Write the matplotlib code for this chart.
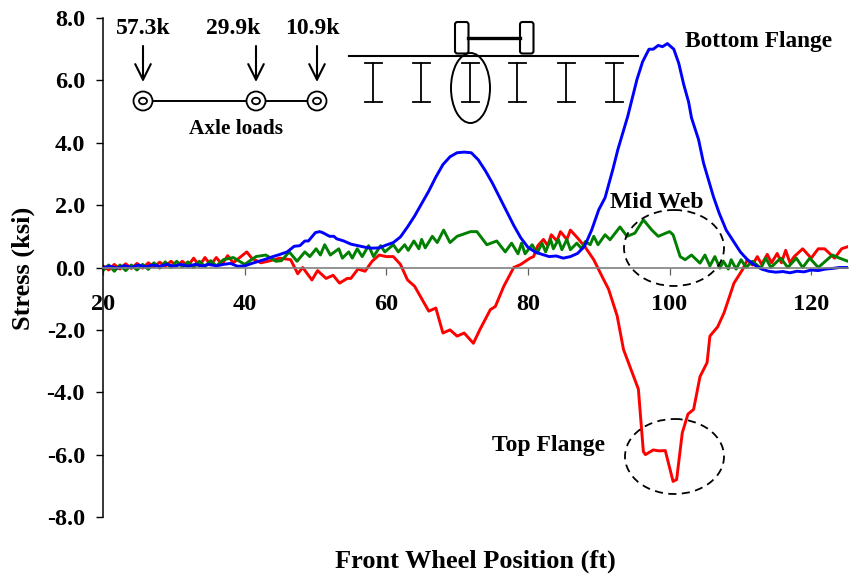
import numpy as np
import matplotlib
matplotlib.use("Agg")
import matplotlib.pyplot as plt
from matplotlib.patches import Ellipse, Circle, FancyBboxPatch

plt.rcParams['font.family'] = ['Liberation Serif', 'DejaVu Serif']
plt.rcParams['font.weight'] = 'bold'

x_ticks = [20, 40, 60, 80, 100, 120]
y_ticks = [-8, -6, -4, -2, 0, 2, 4, 6, 8]
y_labels = ['-8.0', '-6.0', '-4.0', '-2.0', '0.0', '2.0', '4.0', '6.0', '8.0']

blue_x = [20, 21, 22, 23, 24, 25, 26, 27, 28, 29, 30, 31, 32, 33, 34, 35, 36, 37, 38, 39,
          40, 41, 42, 43, 44, 45, 46, 47, 47.8, 48.5, 49, 50, 50.6, 51, 52, 52.6, 53, 54, 55, 56,
          57, 58, 59, 60, 61, 62, 63, 64, 65, 66, 67, 68, 69, 70, 71, 72, 73, 74, 75, 76,
          77, 78, 79, 80, 81, 82, 83, 84, 85, 86, 87, 88, 89, 90, 90.9, 92, 92.7, 94.1, 95.4, 96.2,
          97.1, 97.7, 98.4, 99, 99.7, 100.6, 101.3, 102, 102.7, 103.1, 104.1, 104.8, 106.2, 107, 108, 109, 110, 111, 112, 113,
          114, 115, 116, 117, 118, 119, 120, 121, 122, 123, 124, 125.2]
blue_y = [0.0, 0.04, -0.02, 0.06, 0.0, 0.08, 0.02, 0.08, 0.04, 0.1, 0.04, 0.1, 0.04, 0.1, 0.05, 0.1, 0.05, 0.1, 0.13, 0.04,
          0.05, 0.13, 0.2, 0.27, 0.35, 0.42, 0.5, 0.68, 0.7, 0.85, 0.85, 1.12, 1.15, 1.12, 1.0, 1.0, 0.92, 0.85, 0.75, 0.7,
          0.65, 0.62, 0.63, 0.72, 0.8, 0.98, 1.3, 1.65, 2.05, 2.45, 2.9, 3.3, 3.55, 3.68, 3.7, 3.68, 3.45, 3.1, 2.7, 2.25,
          1.8, 1.35, 0.95, 0.65, 0.5, 0.42, 0.35, 0.37, 0.3, 0.35, 0.45, 0.68, 1.2, 1.85, 2.24, 3.15, 3.78, 4.85, 6.03, 6.6,
          7.0, 7.0, 7.12, 7.08, 7.18, 7.0, 6.55, 5.87, 5.3, 4.8, 4.1, 3.35, 2.27, 1.75, 1.2, 0.85, 0.5, 0.25, 0.08, -0.05,
          -0.12, -0.15, -0.13, -0.17, -0.12, -0.14, -0.08, -0.1, -0.05, -0.03, 0.0, 0.0]

red_x = [20, 20.8, 21.6, 22.4, 23.2, 24, 24.8, 25.6, 26.4, 27.2, 28, 28.8, 29.6, 30.4, 31.2, 32, 32.8, 33.6, 34.4, 35.2,
         36, 36.8, 37.6, 38.4, 39.2, 40.3, 41, 42.3, 43.3, 45, 46.5, 47.5, 48.2, 49.5, 50.3, 51.5, 52.5, 53.4, 54.5, 55,
         56, 57, 58, 59, 60, 61, 62, 63, 64, 65, 66, 67, 68, 69, 70, 71, 72.3, 73.2, 74.7, 75.4,
         76.6, 78, 79, 80.3, 80.8, 81.4, 82.2, 82.8, 83.3, 84.1, 84.6, 85.5, 86, 87, 88.1, 89.3, 90.5, 91.4, 92.6, 93.5,
         95.6, 96.3, 96.6, 97.7, 98.5, 99.4, 100.5, 101, 101.8, 102.6, 103.4, 104.3, 105.3, 105.7, 106.8, 107.7, 109.1, 110.3, 111, 111.7,
         112.4, 113, 113.8, 114.4, 115.2, 115.8, 116.4, 117, 117.6, 118.8, 120, 121, 121.9, 123.3, 124.3, 125.2]
red_y = [0.05, -0.08, 0.1, -0.05, 0.12, -0.03, 0.13, -0.02, 0.15, 0.02, 0.17, 0.04, 0.2, 0.05, 0.2, 0.05, 0.3, 0.05, 0.32, 0.08,
         0.32, 0.1, 0.38, 0.15, 0.3, 0.5, 0.3, 0.15, 0.2, 0.3, 0.25, -0.2, 0.0, -0.4, -0.1, -0.35, -0.25, -0.5, -0.35, -0.35,
         -0.05, -0.12, 0.2, 0.4, 0.35, 0.35, 0.1, -0.4, -0.6, -1.0, -1.4, -1.3, -2.1, -2.0, -2.2, -2.1, -2.43, -2.0, -1.35, -1.25,
         -0.6, 0.0, 0.1, 0.3, 0.35, 0.7, 0.9, 0.7, 1.05, 0.85, 1.15, 0.9, 1.2, 0.95, 0.65, 0.25, -0.3, -0.7, -1.55, -2.63,
         -3.9, -5.9, -6.0, -5.85, -5.88, -5.87, -6.86, -6.8, -5.3, -4.7, -4.55, -3.5, -3.05, -2.2, -1.9, -1.45, -0.5, -0.07, 0.25, 0.08,
         0.35, 0.1, 0.42, 0.15, 0.45, 0.15, 0.55, 0.15, 0.35, 0.6, 0.3, 0.6, 0.6, 0.3, 0.6, 0.67]

green_x = [20, 20.8, 21.6, 22.4, 23.2, 24, 24.8, 25.6, 26.4, 27.2, 28, 28.8, 29.6, 30.4, 31.2, 32, 32.8, 33.6, 34.4, 35.2,
           36, 37, 38.4, 40, 41.6, 43, 44.4, 45.2, 46.3, 47.4, 48.5, 49.2, 50.1, 50.7, 51.3, 52.1, 53.3, 53.8, 54.7, 55.2,
           55.9, 56.6, 57.5, 58.2, 59.2, 59.8, 61, 61.7, 62.6, 63.1, 63.9, 64.6, 65, 65.5, 66.5, 67.2, 68.1, 69, 70, 71.9,
           72.8, 74.2, 75.6, 76.8, 77.7, 78.6, 79.1, 79.6, 80.6, 81.3, 82, 82.5, 83.2, 83.6, 84.3, 84.8, 85.5, 86, 86.9, 87.6,
           88.1, 88.8, 89.3, 89.9, 90.9, 91.6, 93, 94, 95.1, 96.3, 97.5, 98.4, 100, 100.5, 101.5, 102.2, 103.1, 104.3, 105, 105.7,
           106.4, 107.1, 107.6, 108.3, 108.7, 109.4, 110.1, 110.8, 111.7, 112.9, 113.6, 114.3, 115.7, 116.7, 117.9, 118.8, 119.8, 121, 123, 124, 125.2]
green_y = [-0.1, 0.08, -0.12, 0.08, -0.1, 0.08, -0.08, 0.1, -0.06, 0.15, -0.02, 0.18, 0.0, 0.2, 0.02, 0.18, 0.0, 0.2, 0.03, 0.22,
           0.05, 0.25, 0.32, 0.1, 0.35, 0.4, 0.2, 0.22, 0.5, 0.2, 0.5, 0.35, 0.6, 0.4, 0.73, 0.4, 0.6, 0.3, 0.5, 0.3,
           0.6, 0.35, 0.7, 0.35, 0.7, 0.5, 0.73, 0.5, 0.73, 0.55, 0.85, 0.6, 0.9, 0.63, 1.0, 0.8, 1.2, 0.8, 1.0, 1.15,
           1.15, 0.73, 0.85, 0.5, 0.78, 0.44, 0.78, 0.44, 0.73, 0.46, 0.78, 0.5, 0.9, 0.6, 0.9, 0.57, 0.9, 0.57, 0.78, 0.6,
           0.83, 0.73, 1.0, 0.73, 1.05, 0.89, 1.3, 1.0, 1.1, 1.53, 1.2, 1.0, 1.15, 1.05, 0.35, 0.25, 0.4, 0.14, 0.4, 0.05,
           0.35, -0.02, 0.2, -0.05, 0.25, -0.05, 0.25, 0.0, 0.2, -0.02, 0.3, 0.0, 0.3, 0.0, 0.3, 0.0, 0.3, 0.0, 0.4, 0.3, 0.2]

axle_loads = ['57.3k', '29.9k', '10.9k']

W, H = 851, 579
fig = plt.figure(figsize=(W / 100, H / 100), dpi=100)
ax = fig.add_axes([103 / W, 1 - 517 / H, 745 / W, 499 / H])
ax.plot(red_x, red_y, color='#ff0000', lw=2.1)
ax.plot(green_x, green_y, color='#007f00', lw=2.1)
ax.plot(blue_x, blue_y, color='#0000ff', lw=2.1)
ax.set_xlim(20, 125.2)
ax.set_ylim(-8, 8)
ax.spines['top'].set_visible(False)
ax.spines['right'].set_visible(False)
ax.spines['bottom'].set_position(('data', 0))
ax.spines['bottom'].set_color('#808080')
ax.spines['bottom'].set_linewidth(1.2)
ax.spines['left'].set_linewidth(1.1)
ax.set_xticks(x_ticks)
ax.set_xticklabels([str(t) for t in x_ticks])
ax.set_yticks(y_ticks)
ax.set_yticklabels(y_labels)
ax.tick_params(axis='x', length=5, width=0.9, color='#606060', pad=14, labelsize=17.5)
ax.tick_params(axis='y', length=5, width=1.0, pad=8, labelsize=17.5)
ax.patch.set_alpha(0)

# overlay in pixel coordinates for the sketches and labels
ov = fig.add_axes([0, 0, 1, 1])
ov.set_xlim(0, W)
ov.set_ylim(H, 0)
ov.axis('off')

ov.text(23, 268, 'Stress (ksi)', rotation=90, ha='center', va='center', fontsize=19)
ov.text(475, 561, 'Front Wheel Position (ft)', ha='center', va='center', fontsize=19)
ov.text(758.5, 42, 'Bottom Flange', ha='center', va='center', fontsize=16.8)
ov.text(656.5, 202, 'Mid Web', ha='center', va='center', fontsize=17)
ov.text(548.5, 446, 'Top Flange', ha='center', va='center', fontsize=17)
ov.text(236, 129, 'Axle loads', ha='center', va='center', fontsize=15.3)

wheel_x = [143, 256, 317]
label_x = [143, 233, 312]
ov.plot([wheel_x[0], wheel_x[2]], [101, 101], color='k', lw=1.4)
for wx, lx, lab in zip(wheel_x, label_x, axle_loads):
    ov.text(lx, 29, lab, ha='center', va='center', fontsize=17)
    ov.annotate('', xy=(wx, 82), xytext=(wx, 46),
                arrowprops=dict(arrowstyle='->,head_length=0.7,head_width=0.35', color='k',
                                lw=1.5, mutation_scale=16, shrinkA=0, shrinkB=0))
    ov.add_patch(Circle((wx, 101), 9.5, fc='white', ec='k', lw=1.3, zorder=3))
    ov.add_patch(Ellipse((wx, 101), 8, 6.5, fc='white', ec='k', lw=1.3, zorder=4))

ov.plot([349, 638], [55.5, 55.5], color='k', lw=1.5)
for gx in [373, 421, 470, 517, 566, 614]:
    ov.plot([gx, gx], [63, 102], color='k', lw=1.3)
    ov.plot([gx - 8.5, gx + 8.5], [63, 63], color='k', lw=1.3)
    ov.plot([gx - 8.5, gx + 8.5], [102, 102], color='k', lw=1.3)
ov.add_patch(Ellipse((470.5, 88), 39, 70, fc='none', ec='k', lw=1.4))
ov.plot([468, 520], [38, 38], color='k', lw=2.4)
for tx in [455, 520]:
    ov.add_patch(FancyBboxPatch((tx + 2.5, 24.5), 8.5, 26.5, boxstyle='round,pad=2.5', fc='white', ec='k', lw=1.5))

ov.add_patch(Ellipse((674, 248), 100, 76, fc='none', ec='k', lw=1.3, ls=(0, (4.5, 3))))
ov.add_patch(Ellipse((674.5, 456.5), 99, 75, fc='none', ec='k', lw=1.3, ls=(0, (4.5, 3))))

fig.savefig('out.png', dpi=100)
